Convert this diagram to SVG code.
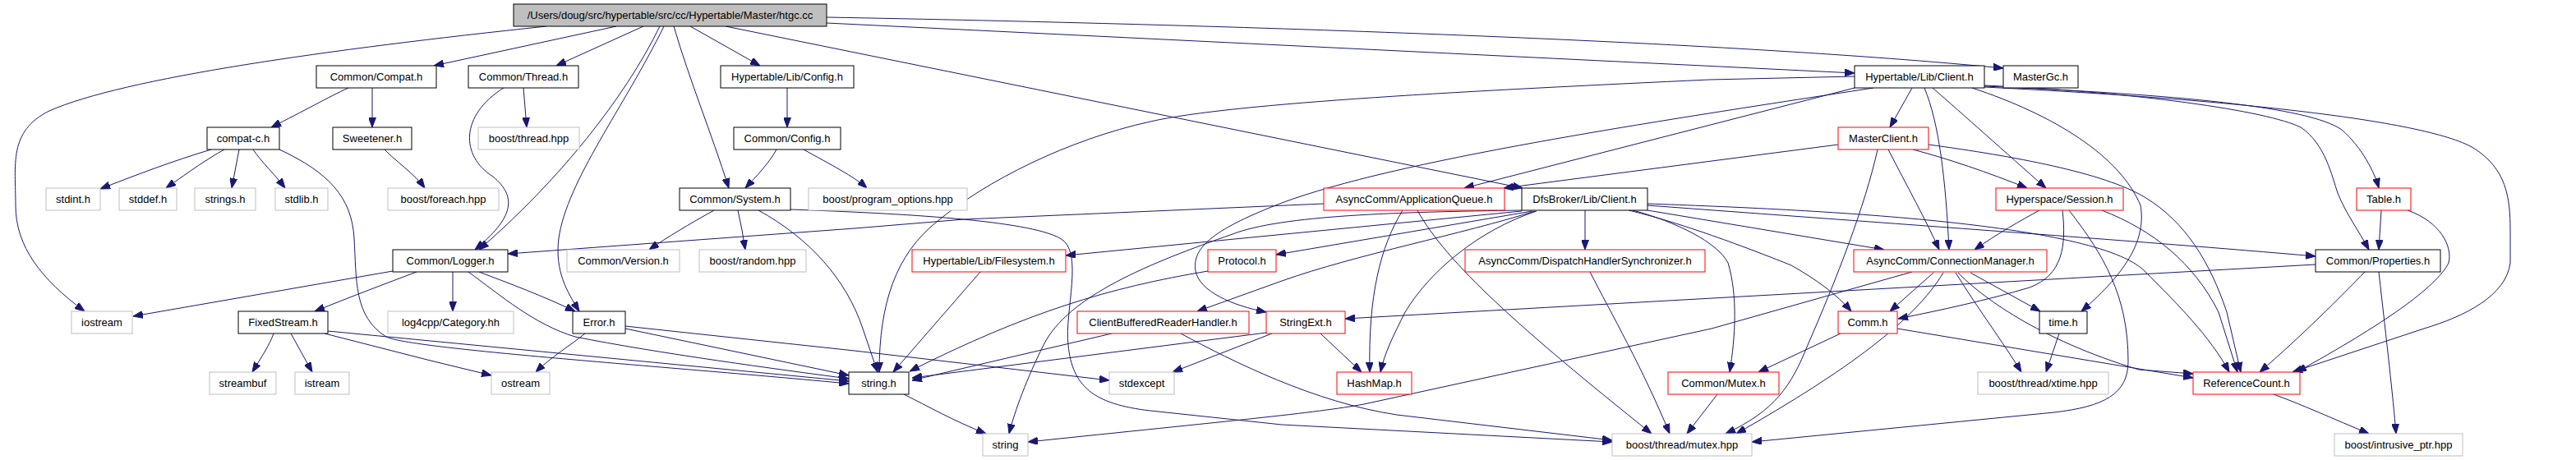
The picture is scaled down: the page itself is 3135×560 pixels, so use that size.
<svg xmlns="http://www.w3.org/2000/svg" width="3135" height="560" viewBox="0 0 3135 560">
<style>
rect{fill:#fff;stroke-width:1}
.b rect{stroke:#000}
.r rect{stroke:#ff0000}
.g rect{stroke:#bfbfbf}
.root rect{fill:#bfbfbf;stroke:#000}
text{font-family:"Liberation Sans",Arial,sans-serif;font-size:13px;fill:#000;text-anchor:middle}
#edges path{fill:none;stroke:#191970;stroke-width:1;marker-end:url(#ah)}
</style>
<defs>
<marker id="ah" markerUnits="userSpaceOnUse" markerWidth="12" markerHeight="9" refX="12" refY="4.5" orient="auto">
<path d="M0,0 L12,4.5 L0,9 z" fill="#191970" stroke="#191970" stroke-width="1"/>
</marker>
</defs>
<rect x="0" y="0" width="3135" height="560" style="fill:#fff;stroke:none"/>
<g id="edges">
<path d="M665,32 C400,60 150,95 60,135 C10,160 19,200 19,250 C19,300 50,340 103,379"/>
<path d="M750,32 L528,80"/>
<path d="M783,32 L677,80"/>
<path d="M803,32 C760,120 680,220 583,304"/>
<path d="M613,107 C560,140 560,190 600,215 C630,240 625,265 578,304"/>
<path d="M808,32 C760,130 690,220 680,290 C675,330 690,355 705,379"/>
<path d="M820,32 C840,100 865,160 887,229"/>
<path d="M840,32 L925,80"/>
<path d="M883,32 L1853,229"/>
<path d="M1006,28 L2257,89"/>
<path d="M1006,21 C1500,30 2100,50 2438,83"/>
<path d="M424,107 C400,118 370,135 330,155"/>
<path d="M453,107 L453,155"/>
<path d="M257,182 C213,195 160,215 122,230"/>
<path d="M273,182 C253,193 233,207 202,229"/>
<path d="M291,182 L282,229"/>
<path d="M308,182 C318,197 335,213 347,229"/>
<path d="M340,182 C400,210 428,240 431,290 C434,340 430,385 470,410 C500,425 800,445 1033,467"/>
<path d="M468,182 C480,195 505,212 517,229"/>
<path d="M637,107 L641,155"/>
<path d="M958,107 L958,155"/>
<path d="M945,182 C935,200 920,215 907,229"/>
<path d="M978,182 C1010,200 1040,215 1055,229"/>
<path d="M869,256 C840,272 810,290 790,304"/>
<path d="M898,256 L903,280 L907,304"/>
<path d="M923,256 C985,290 1030,340 1050,400 L1068,453"/>
<path d="M962,255 C1100,260 1250,268 1290,290 C1320,305 1295,380 1300,420 C1305,470 1330,492 1400,500 L1560,517 L1962,538"/>
<path d="M478,330 L162,385"/>
<path d="M507,331 C470,345 430,360 383,379"/>
<path d="M551,331 L551,379"/>
<path d="M583,331 C620,345 660,360 700,379"/>
<path d="M570,331 C610,360 650,395 700,410 C800,430 950,450 1033,461"/>
<path d="M333,406 C328,420 318,435 307,453"/>
<path d="M354,406 L380,453"/>
<path d="M399,403 L1033,464"/>
<path d="M395,406 L520,438 L598,457"/>
<path d="M712,406 C695,420 670,435 652,453"/>
<path d="M761,400 L1033,457"/>
<path d="M761,397 L1040,427 L1350,463"/>
<path d="M1100,480 C1130,495 1160,512 1200,528"/>
<path d="M2257,93 L2080,97 C1800,110 1500,125 1400,148 C1300,170 1200,220 1140,270 C1090,310 1070,370 1070,453"/>
<path d="M2257,107 L1782,229"/>
<path d="M2280,107 C2000,150 1700,195 1560,247 C1480,278 1450,300 1455,330 C1460,355 1500,372 1541,380"/>
<path d="M2237,176 L1830,229"/>
<path d="M2327,107 L2300,155"/>
<path d="M2342,107 C2360,150 2368,220 2372,304"/>
<path d="M2352,107 C2390,140 2440,185 2490,229"/>
<path d="M2400,107 C2500,140 2580,190 2605,250 C2612,290 2590,330 2533,379"/>
<path d="M2415,106 C2700,120 2950,145 3010,180 C3050,205 3055,240 3055,280 L3055,320 C3050,360 3000,385 2950,400 L2790,453"/>
<path d="M2415,104 C2600,112 2760,135 2800,155 C2830,175 2838,215 2845,235 C2855,260 2870,280 2883,304"/>
<path d="M2415,105 C2650,115 2810,130 2850,158 C2875,180 2890,210 2895,229"/>
<path d="M2328,182 C2370,193 2420,210 2467,229"/>
<path d="M2298,182 C2320,225 2345,270 2360,304"/>
<path d="M2285,182 C2270,250 2235,340 2200,420 C2180,470 2160,500 2100,528"/>
<path d="M2347,176 C2450,190 2560,210 2610,240 C2660,270 2690,320 2710,380 L2727,453"/>
<path d="M2482,256 C2460,268 2430,285 2403,304"/>
<path d="M2510,256 C2515,300 2510,335 2470,350 C2420,365 2360,378 2310,388"/>
<path d="M2518,256 C2560,310 2590,360 2590,440 C2590,480 2560,495 2500,502 L2132,538"/>
<path d="M2558,256 C2620,280 2670,320 2700,380 L2723,453"/>
<path d="M2898,256 L2895,304"/>
<path d="M2930,256 C2970,270 2985,300 2980,320 C2965,350 2900,395 2795,453"/>
<path d="M2818,322 L1637,388"/>
<path d="M2878,331 C2850,360 2800,410 2750,453"/>
<path d="M2895,331 C2905,420 2912,480 2916,528"/>
<path d="M2767,480 C2800,492 2840,510 2883,528"/>
<path d="M1852,257 L1297,311"/>
<path d="M1865,257 L1553,310"/>
<path d="M1868,257 C1780,285 1650,310 1560,342 L1457,379"/>
<path d="M1870,257 C1800,280 1740,330 1710,380 C1695,410 1685,430 1680,453"/>
<path d="M1929,256 L1929,304"/>
<path d="M1852,256 C1700,258 1560,262 1500,285 C1400,320 1300,360 1270,420 C1250,460 1235,500 1228,528"/>
<path d="M2005,256 L2293,304"/>
<path d="M2005,250 C2300,272 2600,293 2818,312"/>
<path d="M2005,248 C2200,255 2550,270 2610,330 C2650,370 2690,410 2713,453"/>
<path d="M1982,256 C2020,265 2080,283 2180,323 C2210,340 2235,358 2253,379"/>
<path d="M1987,256 C2040,270 2090,295 2103,320 C2115,360 2112,410 2105,453"/>
<path d="M2327,331 L2083,400 L1660,492 C1600,503 1500,512 1251,538"/>
<path d="M2353,332 L2300,379"/>
<path d="M2365,332 C2330,390 2250,450 2113,528"/>
<path d="M2380,332 C2410,380 2440,420 2460,453"/>
<path d="M2383,332 C2410,360 2480,413 2603,450 L2669,455"/>
<path d="M2398,332 L2483,379"/>
<path d="M2240,406 L2140,453"/>
<path d="M2309,400 L2669,460"/>
<path d="M2506,406 L2490,453"/>
<path d="M2090,480 L2053,528"/>
<path d="M1935,331 C1960,380 2000,450 2032,528"/>
<path d="M1707,256 C1680,300 1665,360 1667,453"/>
<path d="M1725,256 C1760,320 1850,400 2010,528"/>
<path d="M1611,248 L1173,267 L1040,278 L618,309"/>
<path d="M1353,406 L1110,463"/>
<path d="M1437,406 C1500,440 1600,490 1700,505 L1962,536"/>
<path d="M1607,406 L1657,453"/>
<path d="M1541,405 L1110,460"/>
<path d="M1548,406 L1427,453"/>
<path d="M1193,331 L1087,453"/>
<path d="M1470,330 C1350,350 1250,380 1107,452"/>
</g>
<g id="n_htgc" class="root"><rect x="625" y="5" width="381" height="27"/><text x="815.5" y="23">/Users/doug/src/hypertable/src/cc/Hypertable/Master/htgc.cc</text></g>
<g id="n_compat" class="b"><rect x="385" y="80" width="146" height="27"/><text x="458" y="98">Common/Compat.h</text></g>
<g id="n_thread" class="b"><rect x="570" y="80" width="134" height="27"/><text x="637" y="98">Common/Thread.h</text></g>
<g id="n_hlconfig" class="b"><rect x="877" y="80" width="162" height="27"/><text x="958" y="98">Hypertable/Lib/Config.h</text></g>
<g id="n_hlclient" class="b"><rect x="2257" y="80" width="158" height="27"/><text x="2336" y="98">Hypertable/Lib/Client.h</text></g>
<g id="n_mastergc" class="b"><rect x="2438" y="80" width="91" height="27"/><text x="2483.5" y="98">MasterGc.h</text></g>
<g id="n_compatc" class="b"><rect x="252" y="155" width="88" height="27"/><text x="296" y="173">compat-c.h</text></g>
<g id="n_sweetener" class="b"><rect x="405" y="155" width="96" height="27"/><text x="453" y="173">Sweetener.h</text></g>
<g id="n_threadhpp" class="g"><rect x="582" y="155" width="123" height="27"/><text x="643.5" y="173">boost/thread.hpp</text></g>
<g id="n_cconfig" class="b"><rect x="893" y="155" width="130" height="27"/><text x="958" y="173">Common/Config.h</text></g>
<g id="n_masterclient" class="r"><rect x="2237" y="155" width="110" height="27"/><text x="2292" y="173">MasterClient.h</text></g>
<g id="n_stdint" class="g"><rect x="56" y="229" width="66" height="27"/><text x="89" y="247">stdint.h</text></g>
<g id="n_stddef" class="g"><rect x="145" y="229" width="70" height="27"/><text x="180" y="247">stddef.h</text></g>
<g id="n_strings" class="g"><rect x="237" y="229" width="74" height="27"/><text x="274" y="247">strings.h</text></g>
<g id="n_stdlib" class="g"><rect x="335" y="229" width="64" height="27"/><text x="367" y="247">stdlib.h</text></g>
<g id="n_foreach" class="g"><rect x="472" y="229" width="135" height="27"/><text x="539.5" y="247">boost/foreach.hpp</text></g>
<g id="n_system" class="b"><rect x="827" y="229" width="135" height="27"/><text x="894.5" y="247">Common/System.h</text></g>
<g id="n_progopt" class="g"><rect x="984" y="229" width="193" height="27"/><text x="1080.5" y="247">boost/program_options.hpp</text></g>
<g id="n_appqueue" class="r"><rect x="1611" y="229" width="220" height="27"/><text x="1721" y="247">AsyncComm/ApplicationQueue.h</text></g>
<g id="n_dfsclient" class="b"><rect x="1852" y="229" width="153" height="27"/><text x="1928.5" y="247">DfsBroker/Lib/Client.h</text></g>
<g id="n_session" class="r"><rect x="2429" y="229" width="155" height="27"/><text x="2506.5" y="247">Hyperspace/Session.h</text></g>
<g id="n_table" class="r"><rect x="2868" y="229" width="66" height="27"/><text x="2901" y="247">Table.h</text></g>
<g id="n_logger" class="b"><rect x="478" y="304" width="140" height="27"/><text x="548" y="322">Common/Logger.h</text></g>
<g id="n_version" class="g"><rect x="690" y="304" width="137" height="27"/><text x="758.5" y="322">Common/Version.h</text></g>
<g id="n_random" class="g"><rect x="851" y="304" width="130" height="27"/><text x="916" y="322">boost/random.hpp</text></g>
<g id="n_filesystem" class="r"><rect x="1110" y="304" width="187" height="27"/><text x="1203.5" y="322">Hypertable/Lib/Filesystem.h</text></g>
<g id="n_protocol" class="r"><rect x="1470" y="304" width="83" height="27"/><text x="1511.5" y="322">Protocol.h</text></g>
<g id="n_dhs" class="r"><rect x="1783" y="304" width="292" height="27"/><text x="1929" y="322">AsyncComm/DispatchHandlerSynchronizer.h</text></g>
<g id="n_connmgr" class="r"><rect x="2256" y="304" width="235" height="27"/><text x="2373.5" y="322">AsyncComm/ConnectionManager.h</text></g>
<g id="n_properties" class="b"><rect x="2818" y="304" width="152" height="27"/><text x="2894" y="322">Common/Properties.h</text></g>
<g id="n_iostream" class="g"><rect x="87" y="379" width="74" height="27"/><text x="124" y="397">iostream</text></g>
<g id="n_fixedstream" class="b"><rect x="290" y="379" width="109" height="27"/><text x="344.5" y="397">FixedStream.h</text></g>
<g id="n_log4cpp" class="g"><rect x="472" y="379" width="153" height="27"/><text x="548.5" y="397">log4cpp/Category.hh</text></g>
<g id="n_error" class="b"><rect x="697" y="379" width="64" height="27"/><text x="729" y="397">Error.h</text></g>
<g id="n_cbrh" class="r"><rect x="1311" y="379" width="209" height="27"/><text x="1415.5" y="397">ClientBufferedReaderHandler.h</text></g>
<g id="n_stringext" class="r"><rect x="1541" y="379" width="96" height="27"/><text x="1589" y="397">StringExt.h</text></g>
<g id="n_comm" class="r"><rect x="2237" y="379" width="72" height="27"/><text x="2273" y="397">Comm.h</text></g>
<g id="n_time" class="b"><rect x="2482" y="379" width="58" height="27"/><text x="2511" y="397">time.h</text></g>
<g id="n_streambuf" class="g"><rect x="255" y="453" width="81" height="27"/><text x="295.5" y="471">streambuf</text></g>
<g id="n_istream" class="g"><rect x="359" y="453" width="66" height="27"/><text x="392" y="471">istream</text></g>
<g id="n_ostream" class="g"><rect x="598" y="453" width="71" height="27"/><text x="633.5" y="471">ostream</text></g>
<g id="n_stringh" class="b"><rect x="1033" y="453" width="73" height="27"/><text x="1069.5" y="471">string.h</text></g>
<g id="n_stdexcept" class="g"><rect x="1350" y="453" width="79" height="27"/><text x="1389.5" y="471">stdexcept</text></g>
<g id="n_hashmap" class="r"><rect x="1627" y="453" width="91" height="27"/><text x="1672.5" y="471">HashMap.h</text></g>
<g id="n_mutex" class="r"><rect x="2030" y="453" width="135" height="27"/><text x="2097.5" y="471">Common/Mutex.h</text></g>
<g id="n_xtime" class="g"><rect x="2407" y="453" width="159" height="27"/><text x="2486.5" y="471">boost/thread/xtime.hpp</text></g>
<g id="n_refcount" class="r"><rect x="2669" y="453" width="130" height="27"/><text x="2734" y="471">ReferenceCount.h</text></g>
<g id="n_string" class="g"><rect x="1196" y="528" width="55" height="27"/><text x="1223.5" y="546">string</text></g>
<g id="n_mutexhpp" class="g"><rect x="1962" y="528" width="170" height="27"/><text x="2047" y="546">boost/thread/mutex.hpp</text></g>
<g id="n_intrusive" class="g"><rect x="2841" y="528" width="156" height="27"/><text x="2919" y="546">boost/intrusive_ptr.hpp</text></g>
</svg>
